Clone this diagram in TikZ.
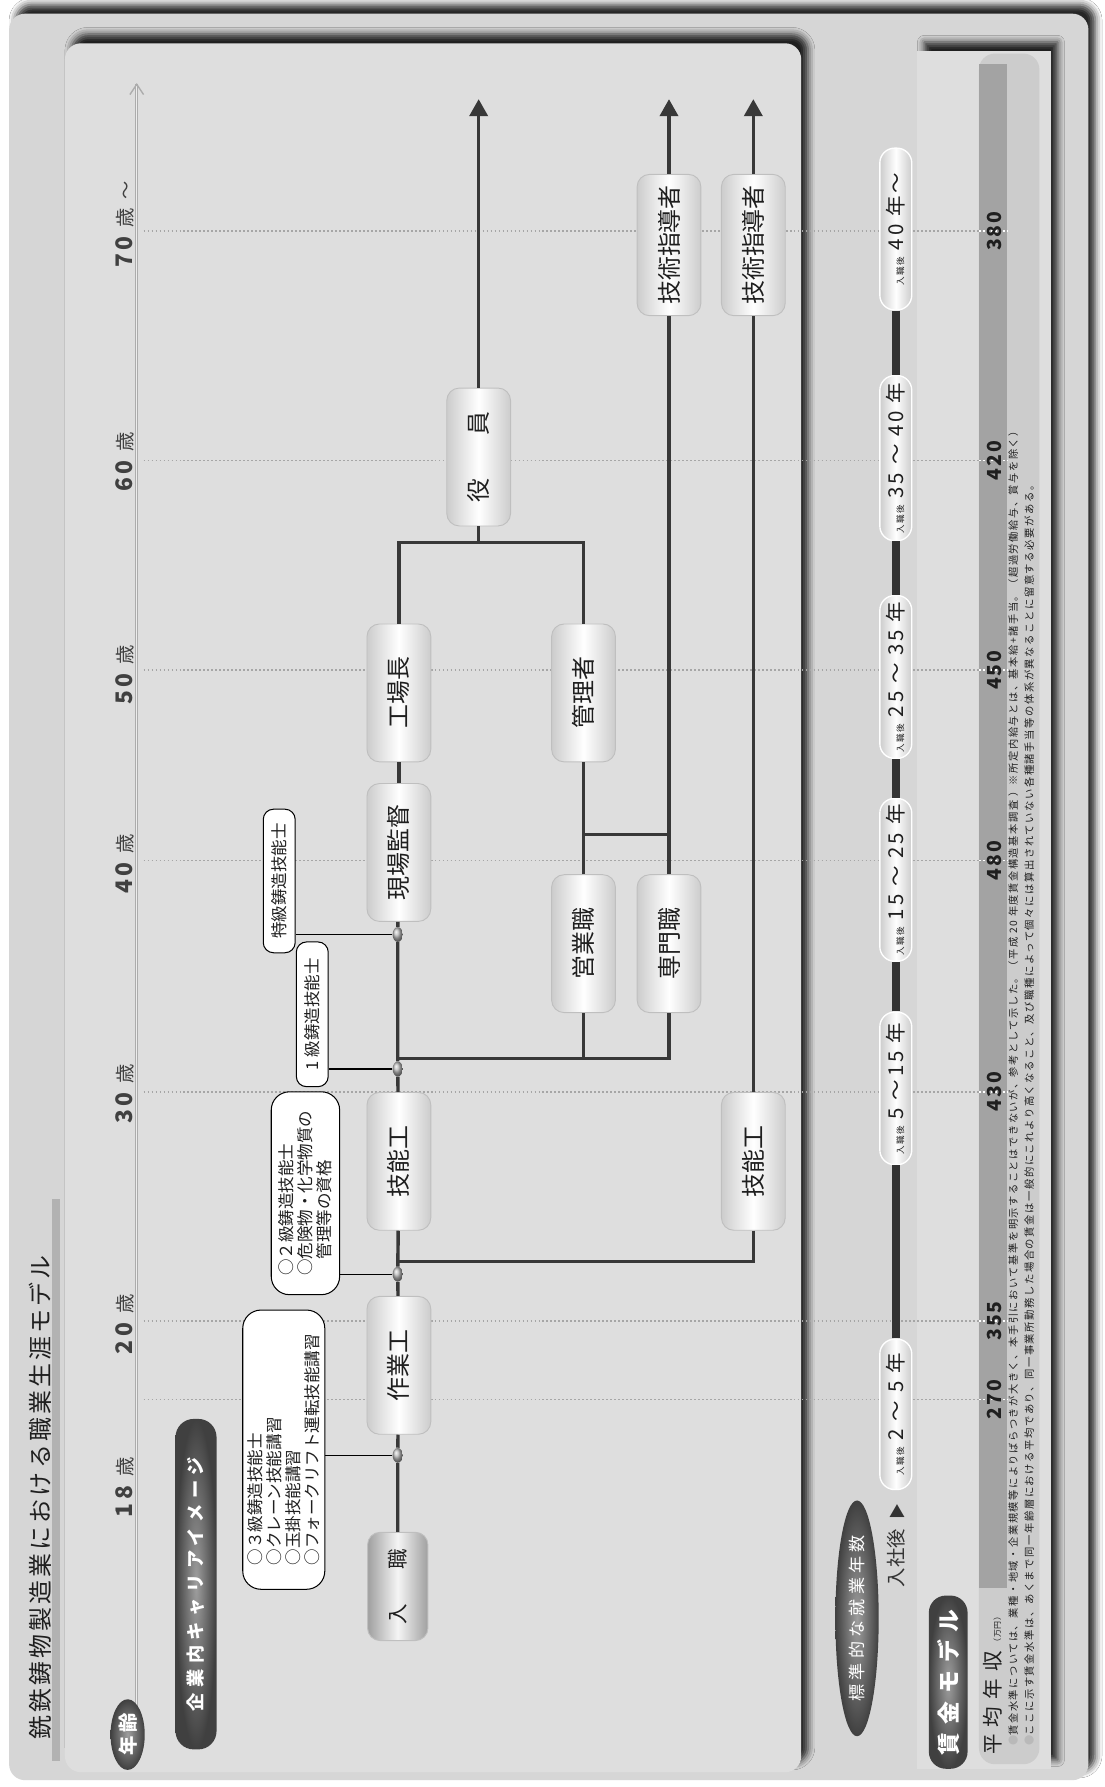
\documentclass[tikz,border=0pt]{standalone}
\usepackage{fontspec}
\usepackage{graphicx}
\setmainfont{Noto Sans CJK JP}
\usetikzlibrary{arrows.meta, shapes.geometric, shadows.blur}

\definecolor{framegray}{gray}{0.84}
\definecolor{panelgray}{gray}{0.87}
\definecolor{bandgray}{gray}{0.80}
\definecolor{bargray}{gray}{0.64}
\definecolor{linegray}{gray}{0.22}
\definecolor{ink}{gray}{0.12}

\newcommand\fsz[1]{\fontsize{#1}{#1}\selectfont}
\newcommand\agetxt[1]{{\fsz{20}\bfseries\addfontfeature{LetterSpace=14}#1}\hspace{8pt}{\fsz{17}歳}}
\newcommand\yrs[1]{{\fsz{7.5}入職後}\hspace{6pt}#1}

\tikzset{
  jobbox/.style={rotate=90, rounded corners=11pt, minimum width=121pt,
    minimum height=56pt, inner sep=0pt, draw=gray!50, line width=0.8pt,
    left color=gray!40, right color=gray!40, middle color=white,
    text=ink, font=\fsz{21}},
  entrybox/.style={jobbox, minimum width=95pt, minimum height=53pt,
    left color=gray!75, right color=gray!75, middle color=gray!8, font=\fsz{18}},
  hub/.style={ellipse, minimum width=9pt, minimum height=13pt, inner sep=0pt,
    ball color=gray!55},
  certbox/.style={rotate=90, draw=black, line width=0.9pt, fill=white,
    rounded corners=9pt, align=left, inner sep=3pt, text=ink,
    font=\fontsize{14.5}{16.5}\selectfont},
  darkhead/.style={rotate=90, inner sep=0pt, inner color=black!38,
    outer color=black!75, text=white},
  yearpill/.style={rotate=90, rounded corners=13pt, minimum height=28pt,
    inner sep=2pt, draw=white, line width=1.2pt, left color=gray!40,
    right color=gray!40, middle color=white, text=ink,
    font=\fsz{18}\addfontfeature{LetterSpace=15}},
  agelbl/.style={rotate=90, text=ink!85, inner sep=0pt},
  wagenum/.style={rotate=90, text=ink, inner sep=0pt,
    font=\fsz{17}\bfseries\addfontfeature{LetterSpace=10}},
  notetext/.style={rotate=90, anchor=west, inner sep=0pt, text=ink,
    font=\fsz{9}\addfontfeature{LetterSpace=15}},
  ageline/.style={draw=gray!70, dotted, line width=1.5pt},
  route/.style={draw=linegray, line width=3pt},
  tie/.style={draw=black, line width=1.1pt},
  yearline/.style={draw=gray!40!black, line width=7pt},
  panelshadow/.style={blur shadow={shadow xshift=6pt, shadow yshift=8pt,
    shadow blur radius=6pt, shadow opacity=85}}
}

\begin{document}
\begin{tikzpicture}[x=1pt, y=-1pt]
\useasboundingbox (0,0) rectangle (969,1568);
\fill[white] (0,0) rectangle (969,1568);

% panels
\fill[framegray, rounded corners=14pt, panelshadow] (8,12) rectangle (955,1562);
\fill[panelgray, rounded corners=14pt, panelshadow] (57,38) rectangle (703,1555);
\fill[panelgray, panelshadow] (805,45) rectangle (922,1552);
\fill[bandgray, rounded corners=14pt] (859,47) rectangle (912,1548);
\fill[bargray] (859,56) rectangle (884,1393);

% title
\node[rotate=90, text=ink, inner sep=0pt, font=\fsz{21}\addfontfeature{LetterSpace=13}]
  (title) at (35,1314) {銑鉄鋳物製造業における職業生涯モデル};
\fill[gray!60] (46,1052) rectangle (53,1545);

% age axis
\coordinate (axbot) at (120,1497);
\coordinate (axtop) at (120,74);
\draw[gray!65, double=gray!15, double distance=1.2pt, line width=0.9pt] (axbot) -- (axtop);
\draw[gray!65, line width=1.2pt] ([xshift=-6pt, yshift=-9pt]axtop) -- (axtop)
  -- ([xshift=6pt, yshift=-9pt]axtop);

\foreach \y in {203,404,588,755,958,1159,1228} {
  \draw[ageline] (126,\y) -- (859,\y);
  \draw[ageline, draw=white] (859,\y) -- (884,\y);
}

\foreach \a/\y in {18/1305, 20/1162, 30/960, 40/758, 50/592, 60/405}
  \node[agelbl] (age\a) at (110,\y) {\agetxt{\a}};
\node[agelbl] (age70) at (110,197) {\agetxt{70}\hspace{7pt}{\fsz{16}～}};

\node[darkhead, ellipse, minimum width=62pt, minimum height=30pt,
  font=\fsz{17}\bfseries] (agehead) at (112,1522) {年\,齢};
\node[darkhead, rounded corners=16pt, minimum width=290pt, minimum height=36pt,
  font=\fsz{16}\bfseries\addfontfeature{LetterSpace=30}] (careerhead) at (172,1390)
  {企業内キャリアイメージ};

% career path
\node[entrybox] (entry) at (349,1392) {入\hspace{30pt}職};
\node[jobbox] (worker) at (350,1198) {作業工};
\node[jobbox] (skilled) at (350,1019) {技能工};
\node[jobbox] (foreman) at (350,748) {現場監督};
\node[jobbox] (chief) at (350,608) {工場長};
\node[jobbox] (manager) at (512,608) {管理者};
\node[jobbox] (sales) at (512,828) {営業職};
\node[jobbox] (expert) at (587,828) {専門職};
\node[jobbox] (skilledB) at (661,1019) {技能工};
\node[jobbox] (director) at (420,401) {役\hspace{38pt}員};
\node[jobbox, minimum width=124pt] (mentorA) at (587,215) {技術指導者};
\node[jobbox, minimum width=124pt] (mentorB) at (661,215) {技術指導者};

\node[hub] (h1) at (349,1277) {};
\node[hub] (h2) at (349,1118) {};
\node[hub] (h3) at (349,938) {};
\node[hub] (h4) at (349,820) {};

\coordinate (j1) at (349,1107);
\coordinate (j2) at (349,929);
\coordinate (j3) at (512,732);
\coordinate (j4) at (587,732);
\coordinate (j5) at (420,476);
\coordinate (top1) at (420,87);
\coordinate (top2) at (587,87);
\coordinate (top3) at (661,87);

\draw[route] (entry) -- (h1) -- (worker);
\draw[route] (worker) -- (h2) -- (skilled);
\draw[route] (skilledB) |- (j1);
\draw[route] (skilled) -- (h3) -- (h4) -- (foreman);
\draw[route] (sales) |- (j2);
\draw[route] (expert) |- (j2);
\draw[route] (foreman) -- (chief);
\draw[route] (sales) -- (manager);
\draw[route] (expert) -- (mentorA);
\draw[route] (j3) -- (j4);
\draw[route] (chief) |- (j5);
\draw[route] (manager) |- (j5);
\draw[route] (director) -- (j5);
\draw[route] (skilledB) -- (mentorB);
\draw[route, -{Triangle[length=15pt, width=16pt]}] (director) -- (top1);
\draw[route, -{Triangle[length=15pt, width=16pt]}] (mentorA) -- (top2);
\draw[route, -{Triangle[length=15pt, width=16pt]}] (mentorB) -- (top3);

% licences
\node[certbox, rounded corners=16pt, minimum width=245pt, minimum height=72pt] (lic3)
  at (249,1272) {○３級鋳造技能士\\○クレーン技能講習\\○玉掛技能講習\\○フォークリフト運転技能講習};
\node[certbox, rounded corners=16pt, minimum width=178pt, minimum height=60pt] (lic2)
  at (268,1047) {○２級鋳造技能士\\○危険物・化学物質の\\　管理等の資格};
\node[certbox, minimum width=127pt, minimum height=28pt] (lic1) at (274,890) {1 級鋳造技能士};
\node[certbox, minimum width=126pt, minimum height=28pt] (lic0) at (245,773) {特級鋳造技能士};

\draw[tie] (h1) -- (h1 -| lic3.south);
\draw[tie] (h2) -- (h2 -| lic2.south);
\draw[tie] (h3) -- (h3 -| lic1.south);
\draw[tie] (h4) -- (h4 -| lic0.south);

% years of service
\node[darkhead, ellipse, minimum width=160pt, minimum height=38pt,
  font=\fsz{15}\addfontfeature{LetterSpace=25}] (yearshead) at (752,1420) {標準的な就業年数};
\node[rotate=90, inner sep=0pt, text=gray!40!black, font=\fsz{17}] (after) at (786,1356)
  {入社後\hspace{8pt}{\fsz{14}▶}};

\node[yearpill, minimum width=132pt] (y1) at (786,1241) {\yrs{2 ～ 5 年}};
\node[yearpill, minimum width=134pt] (y2) at (786,955) {\yrs{5 ～15 年}};
\node[yearpill, minimum width=143pt] (y3) at (786,772) {\yrs{15 ～ 25 年}};
\node[yearpill, minimum width=143pt] (y4) at (786,594) {\yrs{25 ～ 35 年}};
\node[yearpill, minimum width=145pt] (y5) at (786,402) {\yrs{35 ～ 40 年}};
\node[yearpill, minimum width=142pt] (y6) at (786,201) {\yrs{40 年～}};
\draw[yearline] (y1) -- (y2) -- (y3) -- (y4) -- (y5) -- (y6);

% wage model
\node[darkhead, rounded corners=15pt, minimum width=152pt, minimum height=34pt,
  font=\fsz{20}\bfseries\addfontfeature{LetterSpace=35}] (wagehead) at (832,1476) {賃金モデル};
\node[rotate=90, anchor=west, inner sep=0pt, text=ink] (avg) at (871,1540)
  {{\fsz{18}\addfontfeature{LetterSpace=35}平均年収}\hspace{4pt}{\fsz{7}（\,万円\,）}};

\foreach \w/\y in {270/1228, 355/1159, 430/958, 480/755, 450/588, 420/404, 380/203}
  \node[wagenum] (w\w) at (873,\y) {\w};

\node[notetext] (noteA) at (889,1532) {\resizebox{1158pt}{!}{\textcolor{gray!55}{●}賃金水準については、業種・地域・企業規模等によりばらつきが大きく、本手引において基準を明示することはできないが、参考として示した。（平成 20 年度賃金構造基本調査 ）※所定内給与とは、基本給+諸手当。（超過労働給与、賞与を除く）}};
\node[notetext] (noteB) at (903,1532) {\resizebox{1110pt}{!}{\textcolor{gray!55}{●}ここに示す賃金水準は、あくまで同一年齢層における平均であり、同一事業所勤務した場合の賃金は一般的にこれより高くなること、及び職種によって個々には算出されていない各種諸手当等の体系が異なることに留意する必要がある。}};
\end{tikzpicture}
\end{document}
